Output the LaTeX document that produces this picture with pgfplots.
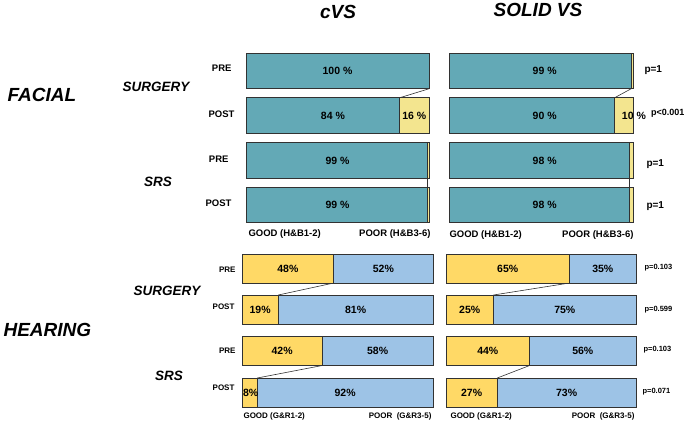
\documentclass[border=0pt]{standalone}
\usepackage{fontspec}
\setmainfont{Liberation Sans}
\usepackage{pgfplots}
\pgfplotsset{compat=1.18}
\definecolor{teal1}{RGB}{99,169,182}
\definecolor{pyel}{RGB}{243,229,143}
\definecolor{gyel}{RGB}{255,217,102}
\definecolor{lblue}{RGB}{157,195,230}
\definecolor{edge}{RGB}{50,50,50}
\newcommand{\fs}[1]{\fontsize{#1}{#1}\selectfont}
\pgfplotsset{
  base/.style={scale only axis, xmin=0, xmax=100, y dir=reverse, axis lines=none,
    clip=false, ticks=none},
  panel/.style={base, xbar stacked},
  barst/.style={draw=edge, line width=0.6pt},
  conn/.style={stack plots=false, sharp plot, draw=edge, line width=0.6pt, mark=none, forget plot},
}
\tikzset{bl/.style={font=\fs{10.5}\bfseries}}
\begin{document}
\begin{tikzpicture}
\useasboundingbox (0pt,0pt) rectangle (685pt,-423pt);
\begin{scope}[x=1pt,y=1pt]
% column titles
\node[font=\fs{19}\bfseries\itshape] at (338,-12) {cVS};
\node[font=\fs{19}\bfseries\itshape] at (538,-10) {SOLID VS};
% row titles
\node[font=\fs{19}\bfseries\itshape, anchor=west] at (4,-95) {FACIAL};
\node[font=\fs{19}\bfseries\itshape, anchor=west] at (0,-330) {HEARING};
\node[font=\fs{13.5}\bfseries\itshape] at (156,-87) {SURGERY};
\node[font=\fs{13.5}\bfseries\itshape] at (158,-182) {SRS};
\node[font=\fs{13.5}\bfseries\itshape] at (167,-291) {SURGERY};
\node[font=\fs{13.5}\bfseries\itshape] at (169,-376) {SRS};
% PRE / POST
\node[font=\fs{9.5}\bfseries, anchor=east] at (235,-68) {PRE};
\node[font=\fs{9.5}\bfseries, anchor=east] at (238,-114) {POST};
\node[font=\fs{9.5}\bfseries, anchor=east] at (232,-159) {PRE};
\node[font=\fs{9.5}\bfseries, anchor=east] at (235,-203) {POST};
\node[font=\fs{8}\bfseries, anchor=east] at (239,-270) {PRE};
\node[font=\fs{8}\bfseries, anchor=east] at (238,-307) {POST};
\node[font=\fs{8}\bfseries, anchor=east] at (239,-351) {PRE};
\node[font=\fs{8}\bfseries, anchor=east] at (238,-388) {POST};
% p values
\node[font=\fs{10}\bfseries, anchor=west] at (641,-70) {p=1};
\node[font=\fs{9}\bfseries, anchor=west, inner sep=1pt] at (650,-113) {p<0.001};
\node[font=\fs{10}\bfseries, anchor=west] at (643,-164) {p=1};
\node[font=\fs{10}\bfseries, anchor=west] at (643,-206) {p=1};
\node[font=\fs{7.5}\bfseries, anchor=west] at (641,-268) {p=0.103};
\node[font=\fs{7.5}\bfseries, anchor=west] at (641,-310) {p=0.599};
\node[font=\fs{7.5}\bfseries, anchor=west] at (640,-350) {p=0.103};
\node[font=\fs{7.5}\bfseries, anchor=west] at (639,-392) {p=0.071};
% bottom labels
\node[font=\fs{9.5}\bfseries, anchor=west] at (245,-234) {GOOD (H\&B1-2)};
\node[font=\fs{9.5}\bfseries, anchor=east] at (434,-234) {POOR (H\&B3-6)};
\node[font=\fs{9.5}\bfseries, anchor=west] at (446,-235) {GOOD (H\&B1-2)};
\node[font=\fs{9.5}\bfseries, anchor=east] at (637,-235) {POOR (H\&B3-6)};
\node[font=\fs{8}\bfseries, anchor=west] at (240,-416) {GOOD (G\&R1-2)};
\node[font=\fs{8}\bfseries, anchor=east] at (435,-416) {POOR\ \ (G\&R3-5)};
\node[font=\fs{8}\bfseries, anchor=west] at (447,-416) {GOOD (G\&R1-2)};
\node[font=\fs{8}\bfseries, anchor=east] at (638,-416) {POOR\ \ (G\&R3-5)};
\end{scope}

% ---------- FACIAL cVS ----------
\begin{axis}[panel, at={(246pt,-223pt)}, anchor=south west, width=183pt, height=170pt,
  ymin=53, ymax=223, bar width=35.5]
\addplot[barst, fill=teal1] coordinates {(100,71) (84,115.5) (99,160.5) (99,205)};
\addplot[barst, fill=pyel] coordinates {(0,71) (16,115.5) (1,160.5) (1,205)};
\addplot[conn] coordinates {(100,88.75) (84,97.75)};
\addplot[conn] coordinates {(99,178.25) (99,187.25)};
\end{axis}
\begin{axis}[base, at={(246pt,-223pt)}, anchor=south west, width=183pt, height=170pt,
  ymin=53, ymax=223]
\node[bl] at (axis cs:50,71) {100 \%};
\node[bl] at (axis cs:47.5,115.5) {84 \%};
\node[bl] at (axis cs:92,115.5) {16 \%};
\node[bl] at (axis cs:50,160.5) {99 \%};
\node[bl] at (axis cs:50,205) {99 \%};
\end{axis}

% ---------- FACIAL SOLID ----------
\begin{axis}[panel, at={(449pt,-223pt)}, anchor=south west, width=184pt, height=170pt,
  ymin=53, ymax=223, bar width=35.5]
\addplot[barst, fill=teal1] coordinates {(99,71) (90,115.5) (98,160.5) (98,205)};
\addplot[barst, fill=pyel] coordinates {(1,71) (10,115.5) (2,160.5) (2,205)};
\addplot[conn] coordinates {(99,88.75) (90,97.75)};
\addplot[conn] coordinates {(98,178.25) (98,187.25)};
\end{axis}
\begin{axis}[base, at={(449pt,-223pt)}, anchor=south west, width=184pt, height=170pt,
  ymin=53, ymax=223]
\node[bl] at (axis cs:52,71) {99 \%};
\node[bl] at (axis cs:52,115.5) {90 \%};
\node[bl] at (axis cs:100.5,115.5) {10 \%};
\node[bl] at (axis cs:52,160.5) {98 \%};
\node[bl] at (axis cs:52,205) {98 \%};
\end{axis}

% ---------- HEARING cVS ----------
\begin{axis}[panel, at={(242pt,-407pt)}, anchor=south west, width=191pt, height=153pt,
  ymin=254, ymax=407, bar width=29]
\addplot[barst, fill=gyel] coordinates {(48,268.5) (19,309.5) (42,351) (8,392.5)};
\addplot[barst, fill=lblue] coordinates {(52,268.5) (81,309.5) (58,351) (92,392.5)};
\addplot[conn] coordinates {(48,283) (19,295)};
\addplot[conn] coordinates {(42,365.5) (8,378)};
\end{axis}
\begin{axis}[base, at={(242pt,-407pt)}, anchor=south west, width=191pt, height=153pt,
  ymin=254, ymax=407]
\node[bl] at (axis cs:24,268.5) {48\%};
\node[bl] at (axis cs:74,268.5) {52\%};
\node[bl] at (axis cs:9.5,309.5) {19\%};
\node[bl] at (axis cs:59.5,309.5) {81\%};
\node[bl] at (axis cs:21,351) {42\%};
\node[bl] at (axis cs:71,351) {58\%};
\node[bl] at (axis cs:4.5,392.5) {8\%};
\node[bl] at (axis cs:54,392.5) {92\%};
\end{axis}

% ---------- HEARING SOLID ----------
\begin{axis}[panel, at={(446pt,-407pt)}, anchor=south west, width=190pt, height=153pt,
  ymin=254, ymax=407, bar width=29]
\addplot[barst, fill=gyel] coordinates {(65,268.5) (25,309.5) (44,351) (27,392.5)};
\addplot[barst, fill=lblue] coordinates {(35,268.5) (75,309.5) (56,351) (73,392.5)};
\addplot[conn] coordinates {(65,283) (25,295)};
\addplot[conn] coordinates {(44,365.5) (27,378)};
\end{axis}
\begin{axis}[base, at={(446pt,-407pt)}, anchor=south west, width=190pt, height=153pt,
  ymin=254, ymax=407]
\node[bl] at (axis cs:32.5,268.5) {65\%};
\node[bl] at (axis cs:82.5,268.5) {35\%};
\node[bl] at (axis cs:12.5,309.5) {25\%};
\node[bl] at (axis cs:62.5,309.5) {75\%};
\node[bl] at (axis cs:22,351) {44\%};
\node[bl] at (axis cs:72,351) {56\%};
\node[bl] at (axis cs:13.5,392.5) {27\%};
\node[bl] at (axis cs:63.5,392.5) {73\%};
\end{axis}
\end{tikzpicture}
\end{document}
